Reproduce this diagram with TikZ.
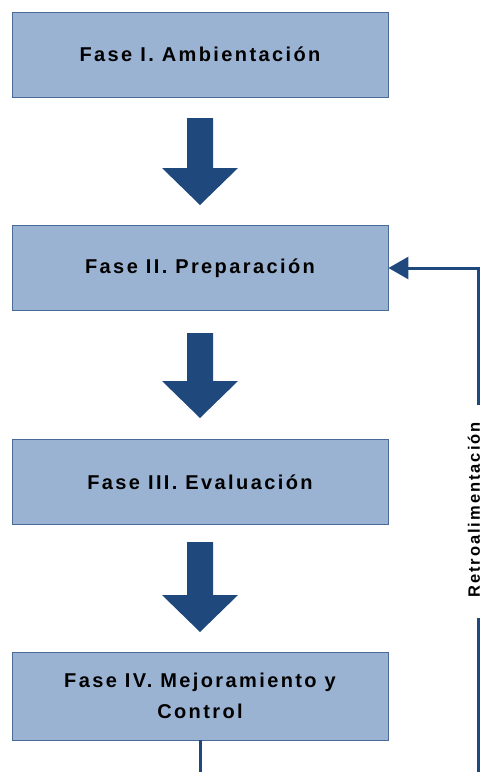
\documentclass[tikz,border=0pt]{standalone}
\usepackage{fontspec}
\setmainfont{Liberation Sans}
\newfontfamily\phasefont[LetterSpace=12]{Liberation Sans}
\usetikzlibrary{arrows.meta}
\definecolor{boxfill}{HTML}{9BB3D3}
\definecolor{boxline}{HTML}{4A6A9A}
\definecolor{navy}{HTML}{1F497D}
\tikzset{
  phase/.style={draw=boxline, line width=0.9pt, fill=boxfill, minimum width=376pt,
    minimum height=85pt, align=center, font=\phasefont\bfseries\fontsize{20}{31}\selectfont},
  bigarrow/.style={fill=navy, draw=none},
  link/.style={draw=navy, line width=3pt},
}
\begin{document}
\begin{tikzpicture}[x=1pt, y=-1pt]
\useasboundingbox (0,0) rectangle (484,772);
\node[phase] (f1) at (200,54.5) {Fase I. Ambientación};
\node[phase] (f2) at (200,268) {Fase II. Preparación};
\node[phase] (f3) at (200,482) {Fase III. Evaluación};
\node[phase, minimum height=88pt] (f4) at (200,696) {Fase IV. Mejoramiento y\\Control};
% block arrows between phases
\foreach \t/\b in {118/205, 333/418, 542/632}{
  \fill[bigarrow] (187,\t) -- (213,\t) -- (213,{\b-37}) -- (238,{\b-37}) -- (200,\b)
    -- (162,{\b-37}) -- (187,{\b-37}) -- cycle;
}
% feedback loop
\node[rotate=90, font=\phasefont\bfseries\fontsize{16.5}{18}\selectfont, inner sep=1pt] (rt) at (474,510) {Retroalimentación};
\coordinate (top) at (478,268);
\coordinate (up) at (478,405);
\coordinate (low) at (478,618);
\coordinate (bot) at (478,772);
\coordinate (f4b) at (200,772);
\draw[link, -{Triangle[length=20pt,width=22pt]}] (up) -- (top) -- (f2.east);
\draw[link] (low) -- (bot);
\draw[link] (f4.south) -- (f4b);
\end{tikzpicture}
\end{document}
